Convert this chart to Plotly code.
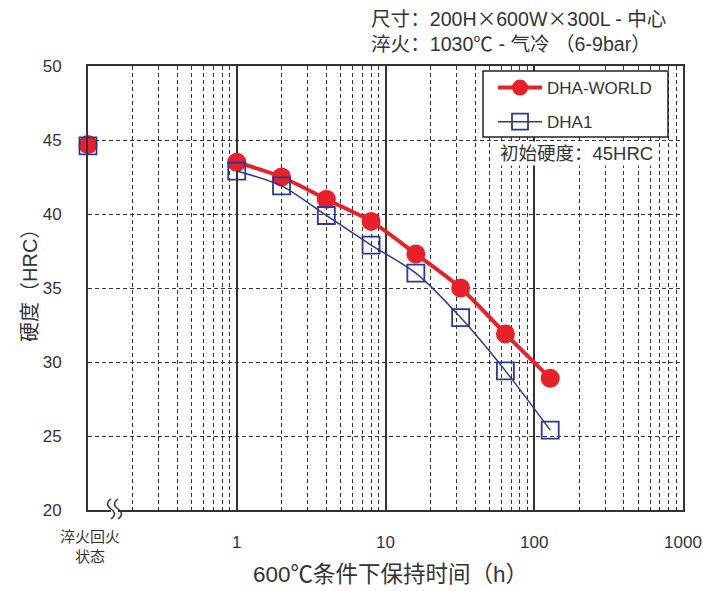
import plotly.graph_objects as go

# ---- data ----
quench_x = 0.1
hours = [1, 2, 4, 8, 16, 32, 64, 128]
world_quench = 44.7
world_vals = [43.5, 42.5, 41.0, 39.5, 37.3, 35.0, 31.9, 28.9]
dha1_quench = 44.6
dha1_vals = [42.9, 41.9, 39.9, 37.9, 36.0, 33.0, 29.4, 25.4]
x_tickvals = [0.1, 1, 10, 100, 1000]
x_ticktext = ["", "1", "10", "100", "1000"]
quench_label = "淬火回火<br>状态"
y_tickvals = [20, 25, 30, 35, 40, 45, 50]

FONT = "Liberation Sans, Noto Sans CJK SC, sans-serif"
TXT = "#333333"
RED = "#e8202a"
NAVY = "#2b3990"

L, R, T, B = 88, 20, 66, 81
W, H = 703, 591
PW, PH = W - L - R, H - T - B
def px(x): return (x - L) / PW          # page pixel -> paper
def py(y): return (H - B - y) / PH      # page pixel -> paper

XS = "<span style=\"font-family:'Noto Sans CJK JP'\">×</span>"

fig = go.Figure()
fig.add_trace(go.Scatter(
    x=[quench_x, None] + hours, y=[world_quench, None] + world_vals,
    name="DHA-WORLD", legendgroup="a", mode="lines+markers", connectgaps=False,
    line=dict(color=RED, width=4, shape="spline", smoothing=0.8),
    marker=dict(symbol="circle", size=19, color=RED),
    cliponaxis=False,
))
fig.add_trace(go.Scatter(
    x=[quench_x, None] + hours, y=[dha1_quench, None] + dha1_vals,
    name="DHA1", legendgroup="b", mode="lines+markers", connectgaps=False,
    line=dict(color=NAVY, width=1.5, shape="spline", smoothing=0.8),
    marker=dict(symbol="square-open", size=17, color=NAVY, line=dict(width=1.8, color=NAVY)),
    cliponaxis=False,
))

fig.update_layout(
    width=W, height=H,
    margin=dict(l=L, r=R, t=T, b=B, autoexpand=False),
    paper_bgcolor="white", plot_bgcolor="white",
    font=dict(family=FONT, size=17, color=TXT),
    showlegend=True,
    legend=dict(
        x=px(493), y=py(70), xanchor="left", yanchor="top",
        bgcolor="rgba(0,0,0,0)", borderwidth=0,
        font=dict(size=17, color=TXT, family=FONT),
        itemwidth=44, tracegroupgap=9,
    ),
    xaxis=dict(
        type="log", range=[-1, 3], automargin=False,
        tickvals=x_tickvals, ticktext=x_ticktext,
        showgrid=True, gridcolor="#333333", gridwidth=1.6,
        minor=dict(dtick="D1", showgrid=True, gridcolor="#333333", gridwidth=1, griddash="4px,3px", ticks=""),
        showline=True, linecolor="#333333", linewidth=2, mirror=True,
        ticks="", ticklabelstandoff=16,
        tickfont=dict(size=17, color=TXT),
        zeroline=False,
    ),
    yaxis=dict(
        range=[20, 50], tickvals=y_tickvals, automargin=False,
        showgrid=True, gridcolor="#333333", gridwidth=1, griddash="4px,3px",
        showline=True, linecolor="#333333", linewidth=2, mirror=True,
        ticks="", ticklabelstandoff=21,
        tickfont=dict(size=17, color=TXT),
        zeroline=False,
    ),
)

# legend frame
fig.add_shape(type="rect", xref="paper", yref="paper",
              x0=px(483), x1=px(668), y0=py(137), y1=py(71),
              fillcolor="white", line=dict(color="#222222", width=1.5), layer="above")

# axis titles
fig.add_annotation(text="600℃条件下保持时间（h）", xref="paper", yref="paper",
                   x=px(390), y=py(574), xanchor="center", yanchor="middle",
                   showarrow=False, font=dict(size=22.5, color=TXT))
fig.add_annotation(text="硬度（HRC）", xref="paper", yref="paper", textangle=-90,
                   x=px(30), y=py(281), xanchor="center", yanchor="middle",
                   showarrow=False, font=dict(size=20, color=TXT))

# header notes (one block, two lines)
fig.add_annotation(text=f"尺寸：200H{XS}600W{XS}300L - 中心<br>淬火：1030℃ - 气冷 （6-9bar）",
                   xref="paper", yref="paper", align="left",
                   x=px(369), y=py(29), xanchor="left", yanchor="middle",
                   showarrow=False, font=dict(size=19.6, color=TXT))
# initial hardness note
fig.add_annotation(text="初始硬度：45HRC", xref="paper", yref="paper",
                   x=px(576), y=py(153), xanchor="center", yanchor="middle",
                   showarrow=False, bgcolor="white", font=dict(size=18.5, color=TXT))
# quench label under left edge
fig.add_annotation(text=quench_label, xref="paper", yref="paper",
                   x=px(90), y=py(546), xanchor="center", yanchor="middle",
                   showarrow=False, font=dict(size=15, color=TXT))

# axis break mark
fig.add_shape(type="rect", xref="paper", yref="paper", xsizemode="pixel", ysizemode="pixel",
              xanchor=0, yanchor=0, x0=23, x1=30, y0=-3, y1=3,
              fillcolor="white", line=dict(width=0), layer="above")
for dx in (23, 30):
    fig.add_shape(type="path", xref="paper", yref="paper", xsizemode="pixel", ysizemode="pixel",
                  xanchor=0, yanchor=0,
                  path=f"M {dx} 11 Q {dx-7} 6 {dx} 1 Q {dx+7} -4 {dx} -9",
                  line=dict(color="#333333", width=1.5), layer="above")

fig.write_html("out.html", config={"displayModeBar": False},
               post_script="document.body.style.margin='0';document.body.style.overflow='hidden';")
